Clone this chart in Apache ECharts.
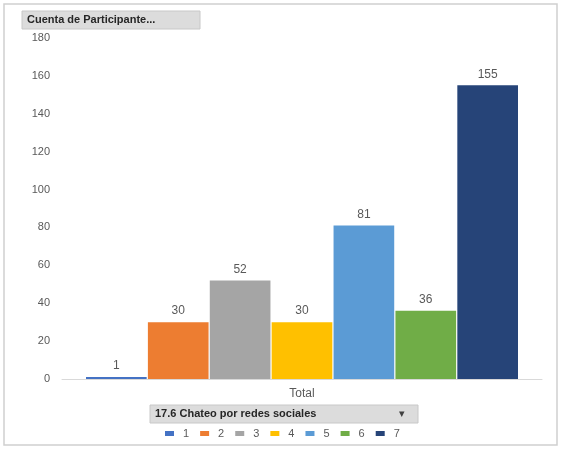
<!DOCTYPE html>
<html>
<head>
<meta charset="utf-8">
<script src="https://cdn.jsdelivr.net/npm/echarts@6/dist/echarts.min.js"></script>
<style>
  html, body { margin: 0; padding: 0; background: #fff; }
  #chart { width: 563px; height: 449px; }
</style>
</head>
<body>
<div id="chart"></div>
<script>
// Participant counts per answer of question 17.6 (chatting on social networks)
const categories = ['Total'];
const seriesNames = ['1', '2', '3', '4', '5', '6', '7'];
const seriesValues = [1, 30, 52, 30, 81, 36, 155];
const seriesColors = ['#4472C4', '#ED7D31', '#A5A5A5', '#FFC000', '#5B9BD5', '#70AD47', '#264478'];
const yTicks = [0, 20, 40, 60, 80, 100, 120, 140, 160, 180];

const chart = echarts.init(document.getElementById('chart'), null, { renderer: 'canvas' });

const series = seriesNames.map((name, i) => ({
  name: name,
  type: 'bar',
  data: [seriesValues[i]],
  barGap: '2%',
  barCategoryGap: '10%',
  itemStyle: { color: seriesColors[i] },
  label: {
    show: true,
    position: 'top',
    distance: 5,
    color: '#595959',
    fontSize: 12,
    fontFamily: 'Liberation Sans'
  }
}));

chart.setOption({
  animation: false,
  backgroundColor: '#fff',
  textStyle: { fontFamily: 'Liberation Sans' },
  grid: { left: 62, right: 21, top: 38, bottom: 70, containLabel: false },
  xAxis: {
    type: 'category',
    data: categories,
    axisLine: { show: true, lineStyle: { color: '#d9d9d9', width: 1 } },
    axisTick: { show: false },
    axisLabel: { color: '#595959', fontSize: 12, margin: 9 }
  },
  yAxis: {
    type: 'value',
    min: yTicks[0],
    max: yTicks[yTicks.length - 1],
    interval: yTicks[1] - yTicks[0],
    axisLine: { show: false },
    axisTick: { show: false },
    splitLine: { show: false },
    axisLabel: { color: '#595959', fontSize: 11, margin: 12 }
  },
  legend: {
    data: seriesNames,
    bottom: 5,
    left: 160,
    itemWidth: 9,
    itemHeight: 5,
    itemGap: 11,
    icon: 'rect',
    textStyle: { color: '#595959', fontSize: 11, padding: [0, 0, 0, 4] }
  },
  graphic: [
    {
      type: 'rect',
      shape: { x: 4, y: 4, width: 553, height: 441 },
      style: { fill: 'none', stroke: '#d0d0d0', lineWidth: 1.5 },
      silent: true
    },
    {
      type: 'rect',
      shape: { x: 22, y: 11, width: 178, height: 18 },
      style: { fill: '#dcdcdc', stroke: '#c8c8c8', lineWidth: 1 },
      silent: true
    },
    {
      type: 'text',
      x: 27, y: 20,
      style: { text: 'Cuenta de Participante...', fill: '#262626', fontSize: 11, fontWeight: 'bold', fontFamily: 'Liberation Sans', verticalAlign: 'middle' },
      silent: true
    },
    {
      type: 'rect',
      shape: { x: 150, y: 405, width: 268, height: 18 },
      style: { fill: '#dcdcdc', stroke: '#c8c8c8', lineWidth: 1 },
      silent: true
    },
    {
      type: 'text',
      x: 155, y: 414,
      style: { text: '17.6 Chateo por redes sociales', fill: '#262626', fontSize: 11, fontWeight: 'bold', fontFamily: 'Liberation Sans', verticalAlign: 'middle' },
      silent: true
    },
    {
      type: 'text',
      x: 399, y: 414,
      style: { text: '▾', fill: '#404040', fontSize: 11, fontFamily: 'DejaVu Sans', verticalAlign: 'middle' },
      silent: true
    }
  ],
  series: series
});
</script>
</body>
</html>
